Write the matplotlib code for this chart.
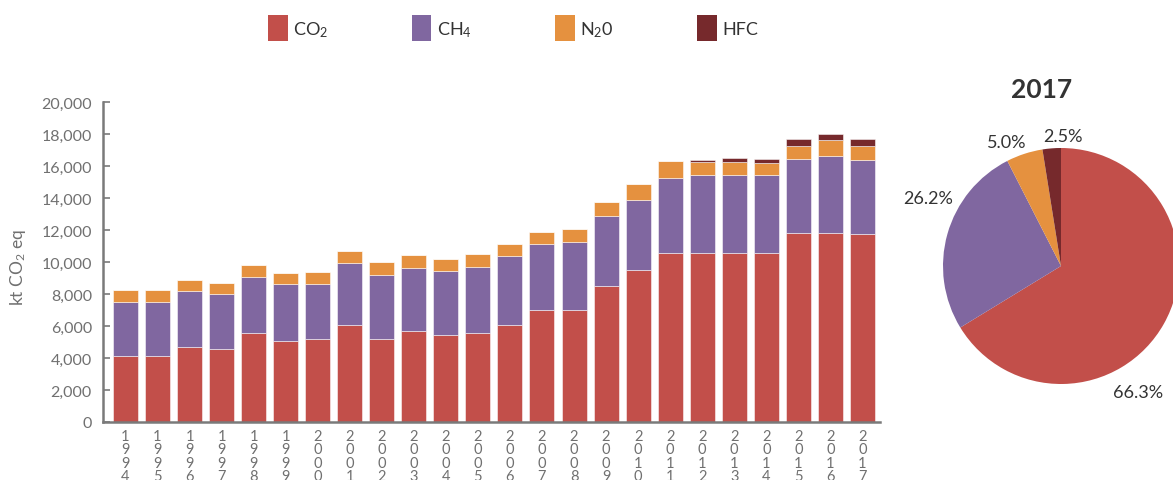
import matplotlib
matplotlib.use("Agg")
import matplotlib.pyplot as plt
from matplotlib.patches import Patch
import numpy as np

plt.rcParams['font.family'] = ['Lato', 'DejaVu Sans']
plt.rcParams['mathtext.fontset'] = 'custom'
plt.rcParams['mathtext.rm'] = 'Lato'
plt.rcParams['mathtext.it'] = 'Lato'

# emissions by gas, kt CO2 eq
years = [str(y) for y in range(1994, 2018)]
co2 = [4100, 4100, 4670, 4570, 5540, 5050, 5160, 6080, 5160, 5680, 5410, 5540,
       6080, 6990, 6990, 8480, 9520, 10570, 10570, 10570, 10570, 11790, 11790, 11730]
ch4 = [3420, 3420, 3520, 3430, 3530, 3580, 3470, 3830, 4020, 3940, 4040, 4150,
       4280, 4150, 4270, 4420, 4360, 4690, 4840, 4840, 4840, 4630, 4860, 4640]
n2o = [750, 750, 690, 700, 740, 670, 740, 800, 800, 840, 760, 780,
       780, 760, 800, 840, 970, 1030, 860, 860, 780, 820, 950, 885]
hfc = [0, 0, 0, 0, 0, 0, 0, 0, 0, 0, 0, 0,
       0, 0, 0, 0, 0, 0, 130, 210, 270, 460, 400, 445]

gases = [r'CO$_\mathrm{2}$', r'CH$_\mathrm{4}$', r'N$_\mathrm{2}$0', 'HFC']
colors = ['#C24F4A', '#8067A0', '#E5913F', '#76292C']
yticks = [0, 2000, 4000, 6000, 8000, 10000, 12000, 14000, 16000, 18000, 20000]

W, H = 1173, 481
fig = plt.figure(figsize=(W / 100, H / 100), dpi=100)

# stacked bar chart
ax = fig.add_axes([103 / W, 1 - 423 / H, (880 - 103) / W, (423 - 103) / H])
x = np.arange(len(years))
bottom = np.zeros(len(years))
for vals, c in zip([co2, ch4, n2o, hfc], colors):
    vals = np.array(vals, dtype=float)
    ax.bar(x, vals, bottom=bottom, width=0.78, color=c,
           edgecolor=(1, 1, 1, 0.6), linewidth=0.6)
    bottom += vals

ax.set_xlim(-0.7, len(years) - 0.45)
ax.set_ylim(0, 20000)
ax.set_yticks(yticks)
ax.set_yticklabels([f"{v:,}" for v in yticks], fontsize=11.5, color='#707070')
ax.set_xticks(x)
ax.set_xticklabels(['\n'.join(y) for y in years], fontsize=10.5, color='#707070',
                   linespacing=0.95)
ax.tick_params(axis='y', direction='in', length=5, width=1.2, color='#7a7a7a', pad=8)
ax.tick_params(axis='x', length=0, pad=5)
for s in ['top', 'right']:
    ax.spines[s].set_visible(False)
for s in ['left', 'bottom']:
    ax.spines[s].set_color('#7a7a7a')
    ax.spines[s].set_linewidth(1.8)
fig.text(18 / W, 1 - 268 / H, r'kt CO$_\mathrm{2}$ eq', rotation=90, ha='center',
         va='center', fontsize=12.5, color='#707070')

# legend
handles = [Patch(facecolor=c, edgecolor='none') for c in colors]
fig.legend(handles, gases, loc='center', bbox_to_anchor=(513 / W, 1 - 29 / H),
           ncol=4, frameon=False, fontsize=13, handlelength=1.1, handleheight=1.8,
           handletextpad=0.3, columnspacing=4.6, labelcolor='#333333')

# 2017 pie
r = 118
cx, cy = 1061, 481 - 267
pax = fig.add_axes([(cx - 1.3 * r) / W, (cy - 1.3 * r) / H, 2.6 * r / W, 2.6 * r / H])
share = [co2[-1], ch4[-1], n2o[-1], hfc[-1]]
wedges, texts, autotexts = pax.pie(share, colors=colors, startangle=90, counterclock=False,
                                   radius=1, autopct='%1.1f%%', pctdistance=1.2,
                                   textprops=dict(fontsize=13, color='#333333'),
                                   wedgeprops=dict(linewidth=0))
label_pos = [(0.65, -1.07), (-1.13, 0.58), (-0.46, 1.05), (0.02, 1.10)]
for t, p in zip(autotexts, label_pos):
    t.set_position(p)
    t.set_ha('center')
    t.set_va('center')
    t.set_clip_on(False)
for w in wedges:
    w.set_clip_on(False)
pax.set_xlim(-1.3, 1.3)
pax.set_ylim(-1.3, 1.3)
pax.set_aspect('equal')
pax.axis('off')
fig.text(1042 / W, 1 - 90 / H, '2017', ha='center', va='center', fontsize=19,
         fontweight='bold', color='#333333')

fig.savefig('out.png', dpi=100)
